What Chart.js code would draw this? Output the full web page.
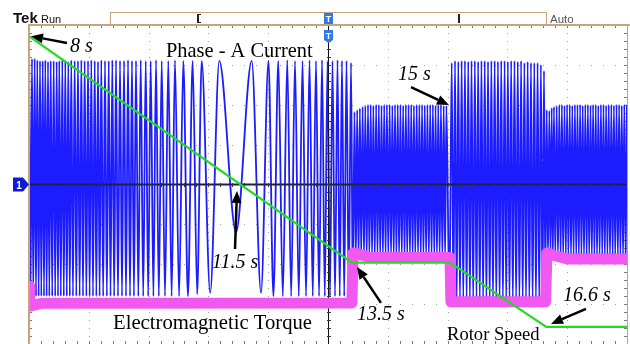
<!DOCTYPE html>
<html>
<head>
<meta charset="utf-8">
<script src="https://cdn.jsdelivr.net/npm/chart.js@4.4.1/dist/chart.umd.min.js"></script>
<style>
  html, body { margin: 0; padding: 0; background: #fff; overflow: hidden; }
  #wrap { position: relative; width: 630px; height: 344px; }
</style>
</head>
<body>
<div id="wrap"><canvas id="scope"></canvas></div>
<script>
// screen: 8 s .. 18 s, one second per division; vertical in divisions
const timeDivs = [8, 9, 10, 11, 12, 13, 14, 15, 16, 17, 18];
const levelDivs = [-4, -3, -2, -1, 0, 1, 2, 3, 4];

// Phase-A current, read crest by crest [time s, div]
// run-down, 8 s .. 13.4 s
const crestsA = [
  [8.002, 3.15], [8.050, 3.15], [8.095, 3.16], [8.139, 3.12], [8.184, 3.1], [8.229, 3.1],
  [8.273, 3.12], [8.318, 3.08], [8.363, 3.1], [8.413, 3.1], [8.463, 3.08], [8.507, 3.1],
  [8.557, 3.12], [8.607, 3.1], [8.657, 3.08], [8.707, 3.12], [8.764, 3.1], [8.819, 3.1],
  [8.875, 3.12], [8.931, 3.1], [8.987, 3.1], [9.042, 3.12], [9.099, 3.1], [9.154, 3.08],
  [9.209, 3.12], [9.271, 3.1], [9.333, 3.1], [9.393, 3.12], [9.455, 3.12], [9.522, 3.1],
  [9.589, 3.1], [9.656, 3.12], [9.722, 3.1], [9.789, 3.1], [9.868, 3.12], [9.952, 3.1],
  [10.035, 3.1], [10.124, 3.12], [10.219, 3.1], [10.329, 3.1], [10.441, 3.12], [10.580, 3.1],
  [10.737, 3.1], [10.888, 3.1], [11.182, 3.1], [11.724, 3.1], [12.005, 3.1], [12.169, 3.1],
  [12.319, 3.12], [12.448, 3.1], [12.574, 3.1], [12.691, 3.12], [12.799, 3.1], [12.900, 3.12],
  [12.992, 3.1], [13.075, 3.1], [13.159, 3.12], [13.234, 3.1], [13.309, 3.1], [13.385, 3.05],
];
const troughsA = [
  [8.026, -2.8], [8.072, -2.8], [8.117, -2.8], [8.161, -2.8], [8.206, -2.8], [8.251, -2.8],
  [8.295, -2.8], [8.340, -2.8], [8.388, -2.8], [8.438, -2.8], [8.485, -2.8], [8.532, -2.8],
  [8.582, -2.8], [8.632, -2.8], [8.682, -2.8], [8.735, -2.8], [8.791, -2.8], [8.847, -2.8],
  [8.903, -2.8], [8.959, -2.8], [9.014, -2.8], [9.070, -2.8], [9.126, -2.8], [9.181, -2.8],
  [9.240, -2.8], [9.302, -2.8], [9.363, -2.8], [9.424, -2.8], [9.488, -2.8], [9.555, -2.8],
  [9.622, -2.8], [9.689, -2.8], [9.755, -2.8], [9.828, -2.8], [9.910, -2.8], [9.993, -2.8],
  [10.080, -2.8], [10.171, -2.8], [10.274, -2.8], [10.385, -2.8], [10.510, -2.8], [10.658, -2.8],
  [10.812, -2.75], [11.030, -2.72], [11.462, -1.2], [11.880, -2.72], [12.087, -2.8], [12.244, -2.8],
  [12.384, -2.8], [12.511, -2.8], [12.632, -2.8], [12.745, -2.8], [12.850, -2.8], [12.946, -2.8],
  [13.033, -2.8], [13.117, -2.8], [13.196, -2.8], [13.271, -2.8], [13.347, -2.8], [13.415, -2.8],
];
// 13.4 s .. 15 s
const crestsB = [
  [13.443, 1.82], [13.488, 1.87], [13.533, 1.91], [13.579, 1.95], [13.624, 1.97], [13.669, 2.0],
  [13.714, 2.0], [13.759, 1.98], [13.805, 2.0], [13.850, 2.0], [13.895, 1.98], [13.940, 2.0],
  [13.985, 2.0], [14.031, 2.0], [14.076, 1.98], [14.121, 2.0], [14.166, 2.0], [14.211, 2.0],
  [14.257, 1.98], [14.302, 2.0], [14.347, 2.0], [14.392, 2.0], [14.437, 1.98], [14.483, 2.0],
  [14.528, 2.0], [14.573, 2.0], [14.618, 1.98], [14.663, 2.0], [14.709, 2.0], [14.754, 2.0],
  [14.799, 1.98], [14.844, 2.0], [14.889, 2.0], [14.935, 1.98], [14.980, 1.98],
];
const troughsB = [
  [13.466, -1.88], [13.511, -1.88], [13.556, -1.88], [13.602, -1.88], [13.647, -1.88], [13.692, -1.88],
  [13.737, -1.88], [13.782, -1.88], [13.828, -1.88], [13.873, -1.88], [13.918, -1.88], [13.963, -1.88],
  [14.008, -1.88], [14.054, -1.88], [14.099, -1.88], [14.144, -1.88], [14.189, -1.88], [14.234, -1.88],
  [14.280, -1.88], [14.325, -1.88], [14.370, -1.88], [14.415, -1.88], [14.460, -1.88], [14.506, -1.88],
  [14.551, -1.88], [14.596, -1.88], [14.641, -1.88], [14.686, -1.88], [14.732, -1.88], [14.777, -1.88],
  [14.822, -1.88], [14.867, -1.88], [14.912, -1.88], [14.958, -1.88], [15.030, -2.95],
];
// 15 s .. 16.6 s
const crestsC = [
  [15.069, 3.05], [15.124, 3.1], [15.179, 3.08], [15.235, 3.1], [15.290, 3.1], [15.345, 3.08],
  [15.400, 3.1], [15.456, 3.1], [15.511, 3.08], [15.566, 3.1], [15.621, 3.1], [15.676, 3.08],
  [15.732, 3.1], [15.787, 3.1], [15.842, 3.08], [15.897, 3.1], [15.953, 3.1], [16.008, 3.08],
  [16.063, 3.1], [16.118, 3.1], [16.173, 3.08], [16.229, 3.1], [16.284, 3.05], [16.339, 3.08],
  [16.394, 3.05], [16.450, 3.05], [16.505, 3.05], [16.560, 3.0], [16.612, 2.85],
];
const troughsC = [
  [15.097, -2.98], [15.152, -2.98], [15.207, -2.98], [15.262, -2.98], [15.318, -2.98], [15.373, -2.98],
  [15.428, -2.98], [15.483, -2.98], [15.538, -2.98], [15.594, -2.98], [15.649, -2.98], [15.704, -2.98],
  [15.759, -2.98], [15.814, -2.98], [15.870, -2.98], [15.925, -2.98], [15.980, -2.98], [16.035, -2.98],
  [16.091, -2.98], [16.146, -2.98], [16.201, -2.98], [16.256, -2.98], [16.311, -2.98], [16.367, -2.98],
  [16.422, -2.98], [16.477, -2.98], [16.532, -2.98], [16.586, -2.98], [16.634, -2.5],
];
// 16.6 s .. 18 s
const crestsD = [
  [16.657, 1.87], [16.701, 1.85], [16.741, 1.92], [16.779, 1.95], [16.824, 1.97], [16.868, 2.0],
  [16.911, 2.0], [16.955, 1.98], [16.998, 2.0], [17.042, 2.0], [17.085, 1.98], [17.129, 2.0],
  [17.172, 2.0], [17.216, 2.0], [17.259, 1.98], [17.303, 2.0], [17.346, 2.0], [17.390, 1.98],
  [17.433, 2.0], [17.477, 2.0], [17.520, 1.98], [17.564, 2.0], [17.607, 2.0], [17.651, 1.98],
  [17.694, 2.0], [17.738, 2.0], [17.781, 1.98], [17.825, 2.0], [17.868, 2.0], [17.912, 1.98],
  [17.955, 2.0], [17.999, 2.0],
];
const troughsD = [
  [16.679, -1.88], [16.721, -1.88], [16.760, -1.88], [16.801, -1.88], [16.846, -1.88], [16.890, -1.88],
  [16.933, -1.88], [16.977, -1.88], [17.020, -1.88], [17.064, -1.88], [17.107, -1.88], [17.151, -1.88],
  [17.194, -1.88], [17.238, -1.88], [17.281, -1.88], [17.325, -1.88], [17.368, -1.88], [17.412, -1.88],
  [17.455, -1.88], [17.499, -1.88], [17.542, -1.88], [17.586, -1.88], [17.629, -1.88], [17.673, -1.88],
  [17.716, -1.88], [17.760, -1.88], [17.803, -1.88], [17.847, -1.88], [17.890, -1.88], [17.934, -1.88],
  [17.977, -1.88],
];

// Electromagnetic torque [time s, div]
const torquePoints = [
  [8.0, -2.55], [8.012, -3.05], [8.2, -2.98], [13.40, -2.97], [13.42, -1.72], [13.55, -1.76],
  [13.7, -1.83], [15.04, -1.83], [15.055, -2.94], [16.64, -2.94], [16.66, -1.72], [16.78, -1.78],
  [17.0, -1.87], [18.0, -1.87],
];

// Rotor speed [time s, div]
const speedPoints = [[8.0, 3.72], [13.40, -1.96], [15.04, -1.96], [16.65, -3.57], [18.0, -3.57]];

// labels and arrows, placed in time / division coordinates
const notes = [
  { text: '8 s', italic: true, size: 20, at: [8.686, 3.32], from: [8.635, 3.55], to: [8.033, 3.72] },
  { text: 'Phase - A Current', italic: false, size: 20.4, at: [10.291, 3.195] },
  { text: '15 s', italic: true, size: 20, at: [14.171, 2.62], from: [14.388, 2.444], to: [15.023, 1.992] },
  { text: '11.5 s', italic: true, size: 20, at: [11.06, -2.093], from: [11.445, -1.617], to: [11.478, -0.163] },
  { text: '13.5 s', italic: true, size: 20, at: [13.485, -3.396], from: [13.886, -2.97], to: [13.485, -2.068] },
  { text: '16.6 s', italic: true, size: 20, at: [16.93, -2.92], from: [17.314, -3.12], to: [16.729, -3.496] },
  { text: 'Electromagnetic Torque', italic: false, size: 20.7, at: [9.405, -3.622] },
  { text: 'Rotor Speed', italic: false, size: 18.6, at: [14.99, -3.897] },
];

const toXY = (pts) => pts.map(([x, y]) => ({ x, y }));
const currentPoints = [...crestsA, ...troughsA, ...crestsB, ...troughsB,
  ...crestsC, ...troughsC, ...crestsD, ...troughsD].sort((a, b) => a[0] - b[0]);

const tan = '#c9a27a';
const serif = '"Liberation Serif", "Times New Roman", serif';
const sans = '"Liberation Sans", Arial, sans-serif';

function drawGraticule(chart) {
  const { ctx, chartArea: a, scales: { x, y } } = chart;
  ctx.save();
  ctx.fillStyle = '#9c9c9c';
  timeDivs.forEach((t) => {
    const px = Math.round(x.getPixelForValue(t));
    for (let v = -4; v <= 4.001; v += 0.2) ctx.fillRect(px, Math.round(y.getPixelForValue(v)), 1, 1);
  });
  levelDivs.forEach((v) => {
    const py = Math.round(y.getPixelForValue(v));
    for (let t = 8; t <= 18.001; t += 0.2) ctx.fillRect(Math.round(x.getPixelForValue(t)), py, 1, 1);
  });
  // minor ticks on the frame
  ctx.fillStyle = '#7a7a7a';
  for (let t = 8.2; t < 18; t += 0.2) {
    const px = Math.round(x.getPixelForValue(t));
    ctx.fillRect(px, a.top, 1, 3);
    ctx.fillRect(px, a.bottom - 3, 1, 3);
  }
  for (let v = -3.8; v < 4; v += 0.2) {
    const py = Math.round(y.getPixelForValue(v));
    ctx.fillRect(a.left, py, 3, 1);
    ctx.fillRect(a.right - 3, py, 3, 1);
  }
  ctx.restore();
}

function drawCenterAxes(chart) {
  const { ctx, chartArea: a, scales: { x, y } } = chart;
  const cy = y.getPixelForValue(0);
  const cx = Math.round(x.getPixelForValue(13)) + 0.5;
  ctx.save();
  ctx.strokeStyle = '#1e1e4e';
  ctx.lineWidth = 2;
  ctx.beginPath();
  ctx.moveTo(a.left, cy);
  ctx.lineTo(a.right, cy);
  ctx.stroke();
  ctx.strokeStyle = '#111';
  ctx.lineWidth = 1;
  ctx.beginPath();
  ctx.moveTo(cx, a.top);
  ctx.lineTo(cx, a.bottom);
  ctx.stroke();
  ctx.fillStyle = '#333';
  for (let t = 8.2; t < 18; t += 0.2) {
    ctx.fillRect(Math.round(x.getPixelForValue(t)), Math.round(cy) - 2, 1, 4);
  }
  for (let v = -3.8; v < 4; v += 0.2) {
    ctx.fillRect(Math.round(cx) - 2, Math.round(y.getPixelForValue(v)), 4, 1);
  }
  ctx.restore();
}

function drawArrow(ctx, x1, y1, x2, y2) {
  const ang = Math.atan2(y2 - y1, x2 - x1);
  const head = 12, half = 5;
  const bx = x2 - head * Math.cos(ang), by = y2 - head * Math.sin(ang);
  ctx.beginPath();
  ctx.moveTo(x1, y1);
  ctx.lineTo(bx, by);
  ctx.stroke();
  ctx.beginPath();
  ctx.moveTo(x2, y2);
  ctx.lineTo(bx + half * Math.sin(ang), by - half * Math.cos(ang));
  ctx.lineTo(bx - half * Math.sin(ang), by + half * Math.cos(ang));
  ctx.closePath();
  ctx.fill();
}

function drawFrame(chart) {
  const { ctx, chartArea: a, scales: { x, y } } = chart;
  ctx.save();
  // frame
  ctx.strokeStyle = tan;
  ctx.lineWidth = 2;
  ctx.beginPath();
  ctx.moveTo(a.left, a.bottom + 2);
  ctx.lineTo(a.left, a.top);
  ctx.lineTo(630, a.top);
  ctx.stroke();
  ctx.lineWidth = 1;
  ctx.beginPath();
  ctx.moveTo(a.right + 0.5, a.top);
  ctx.lineTo(a.right + 0.5, a.bottom);
  ctx.stroke();

  // header
  ctx.fillStyle = '#fff';
  ctx.fillRect(110, 12, 436, 12);
  ctx.strokeStyle = tan;
  ctx.lineWidth = 1;
  ctx.strokeRect(110.5, 12.5, 436, 12);
  ctx.fillStyle = '#111';
  ctx.font = 'bold 15px ' + sans;
  ctx.textBaseline = 'alphabetic';
  ctx.fillText('Tek', 13, 23);
  ctx.font = '11px ' + sans;
  ctx.fillText('Run', 41, 23);
  ctx.fillStyle = '#555';
  ctx.font = '11.5px ' + sans;
  ctx.fillText('Auto', 550, 23);
  ctx.fillStyle = '#222';
  ctx.fillRect(197, 14, 2, 9);
  ctx.fillRect(197, 14, 4, 1);
  ctx.fillRect(197, 22, 4, 1);
  ctx.fillRect(458, 14, 2, 9);

  // trigger markers
  const tx = Math.round(x.getPixelForValue(13));
  ctx.fillStyle = '#2f7be6';
  ctx.fillRect(tx - 4, 13, 9, 11);
  ctx.beginPath();
  ctx.moveTo(tx - 4, 30);
  ctx.lineTo(tx + 5, 30);
  ctx.lineTo(tx + 5, 40);
  ctx.lineTo(tx + 0.5, 43);
  ctx.lineTo(tx - 4, 40);
  ctx.closePath();
  ctx.fill();
  ctx.fillStyle = '#fff';
  ctx.font = 'bold 9px ' + sans;
  ctx.textAlign = 'center';
  ctx.fillText('T', tx + 0.5, 22);
  ctx.fillText('T', tx + 0.5, 39);

  // channel 1 ground marker
  const gy = y.getPixelForValue(0);
  ctx.fillStyle = '#0c1ad6';
  ctx.beginPath();
  ctx.moveTo(13, gy - 7);
  ctx.lineTo(23, gy - 7);
  ctx.lineTo(29, gy);
  ctx.lineTo(23, gy + 7);
  ctx.lineTo(13, gy + 7);
  ctx.closePath();
  ctx.fill();
  ctx.fillStyle = '#fff';
  ctx.font = 'bold 10px ' + sans;
  ctx.fillText('1', 19, gy + 4);

  // annotations
  ctx.textAlign = 'left';
  ctx.fillStyle = '#000';
  ctx.strokeStyle = '#000';
  ctx.lineWidth = 2.5;
  notes.forEach((n) => {
    ctx.font = (n.italic ? 'italic ' : '') + n.size + 'px ' + serif;
    ctx.fillText(n.text, x.getPixelForValue(n.at[0]), y.getPixelForValue(n.at[1]));
    if (n.from) {
      drawArrow(ctx, x.getPixelForValue(n.from[0]), y.getPixelForValue(n.from[1]),
        x.getPixelForValue(n.to[0]), y.getPixelForValue(n.to[1]));
    }
  });
  ctx.restore();
}

const scopePlugin = {
  id: 'scope',
  beforeDatasetsDraw(chart) { drawGraticule(chart); },
  afterDatasetDraw(chart, args) { if (args.index === 0) drawCenterAxes(chart); },
  afterDraw(chart) { drawFrame(chart); },
};

const ctx = document.getElementById('scope').getContext('2d');
new Chart(ctx, {
  type: 'line',
  data: {
    datasets: [
      {
        label: 'Phase - A Current',
        data: toXY(currentPoints),
        borderColor: '#1c1cff',
        borderWidth: 1.8,
        cubicInterpolationMode: 'monotone',
        order: 3,
      },
      {
        label: 'Electromagnetic Torque',
        data: toXY(torquePoints),
        borderColor: 'rgb(240, 88, 240)',
        borderWidth: 11,
        borderJoinStyle: 'round',
        tension: 0,
        order: 2,
      },
      {
        label: 'Rotor Speed',
        data: toXY(speedPoints),
        borderColor: '#1fdc1f',
        borderWidth: 2.2,
        tension: 0,
        order: 1,
      },
    ],
  },
  options: {
    responsive: true,
    maintainAspectRatio: false,
    animation: false,
    layout: { padding: { left: 29, top: 25, right: 3, bottom: 0 } },
    elements: { point: { radius: 0 } },
    scales: {
      x: { type: 'linear', min: 8, max: 18, display: false },
      y: { type: 'linear', min: -4, max: 4, display: false },
    },
    plugins: { legend: { display: false }, tooltip: { enabled: false } },
  },
  plugins: [scopePlugin],
});
</script>
</body>
</html>
